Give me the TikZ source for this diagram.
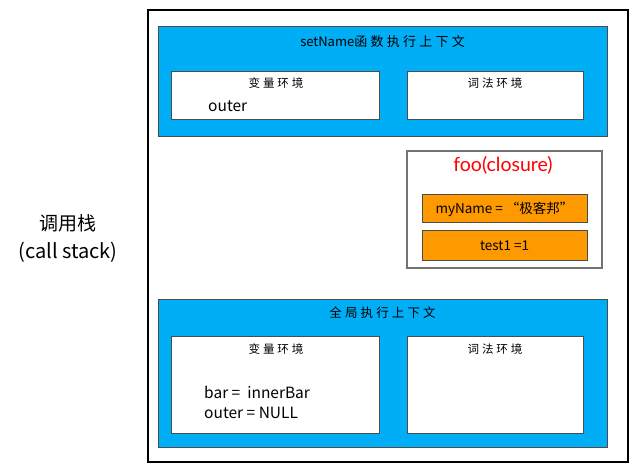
\documentclass[tikz,border=0pt]{standalone}
\usepackage{fontspec}
\setmainfont{Noto Sans CJK SC}
\newfontfamily\widefont[LetterSpace=25]{Noto Sans CJK SC}
\newfontfamily\foofont{Lato}
\usepackage{xcolor}
\definecolor{ctxblue}{RGB}{0,174,245}
\definecolor{varorange}{RGB}{255,153,0}

\begin{document}
\begin{tikzpicture}[x=1pt,y=-1pt]
					\tikzstyle{frame} = [rectangle,draw=black,line width=1.6pt,fill=white]
					\tikzstyle{ctx} = [rectangle,fill=ctxblue,draw=black!70,line width=1pt]
					\tikzstyle{env} = [rectangle,fill=white,draw=black!70,line width=1pt]
					\tikzstyle{closure} = [rectangle,fill=white,draw=black!55,line width=1.2pt]
					\tikzstyle{var} = [rectangle,fill=varorange,draw=black!70,line width=1pt,font=\fontsize{13.5}{15}\selectfont]
					\tikzstyle{label} = [inner sep=0pt,font=\widefont\fontsize{11.5}{13}\selectfont]
					\tikzstyle{code} = [inner sep=0pt,anchor=west,font=\fontsize{15.5}{17}\selectfont]
					\useasboundingbox (0,0) rectangle (638,476);
					\node[frame,minimum width=480,minimum height=452] (stack) at (388,236) {};
					% setName
					\node[ctx,minimum width=449,minimum height=110] (c1) at (382.5,82) {};
					\node[env,minimum width=208,minimum height=48] (v1) at (275,96) {};
					\node[env,minimum width=176,minimum height=48] (l1) at (495,96) {};
					\node[inner sep=0pt,font=\fontsize{13}{15}\selectfont] (t1) at (382.5,42) {setName{\widefont 函数执行上下文}};
					\node[label] (vt1) at (276,83) {变量环境};
					\node[label] (lt1) at (495,83) {词法环境};
					\node[code] (o1) at (208,106) {outer};
					% closure
					\node[closure,minimum width=195,minimum height=117] (foo) at (504.5,209.5) {};
					\node[inner sep=0pt,text=red,font=\foofont\fontsize{19.5}{21}\selectfont] (ft) at (503,165) {foo(closure)};
					\node[var,minimum width=165,minimum height=28] (n1) at (504.5,209) {myName = “极客邦”};
					\node[var,minimum width=165,minimum height=30] (n2) at (504.5,246) {test1 =1};
					% global
					\node[ctx,minimum width=449,minimum height=148] (c2) at (382.5,373) {};
					\node[env,minimum width=208,minimum height=97] (v2) at (275,384.5) {};
					\node[env,minimum width=176,minimum height=97] (l2) at (495,384.5) {};
					\node[label,font=\widefont\fontsize{12.5}{14}\selectfont] (t2) at (382.5,313) {全局执行上下文};
					\node[label] (vt2) at (276,349) {变量环境};
					\node[label] (lt2) at (495,349) {词法环境};
					\node[code] (b2) at (204,392) {bar =\ \ innerBar};
					\node[code] (o2) at (204,413) {outer = NULL};
					% left
					\node[label,font=\fontsize{19}{21}\selectfont] (cs) at (68,223) {调用栈};
					\node[label,font=\fontsize{20}{22}\selectfont] (cse) at (68,252) {(call stack)};
					\end{tikzpicture}
\end{document}
